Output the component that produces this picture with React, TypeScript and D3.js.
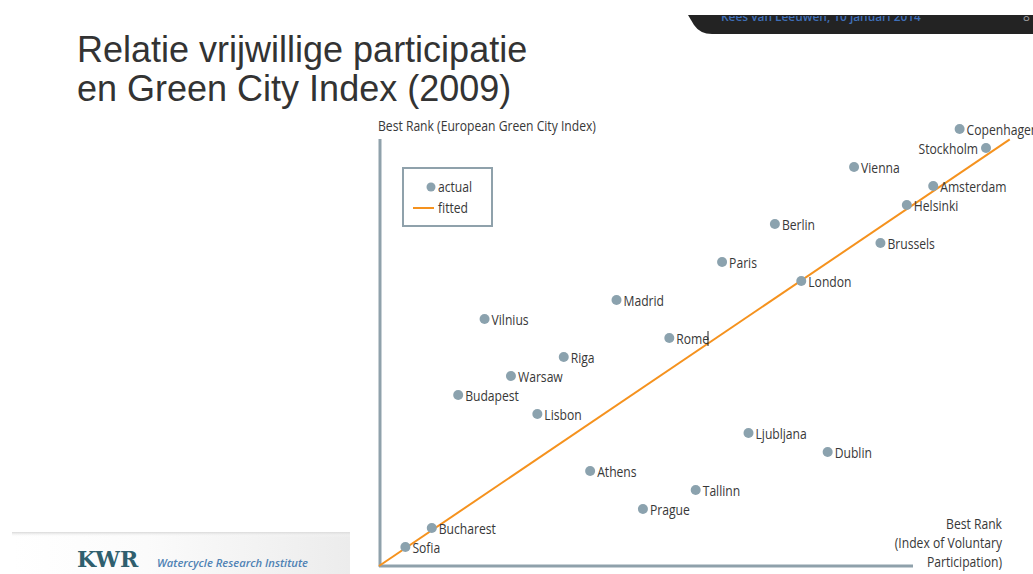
import React from "react";
import * as d3 from "d3";

const cities = ["Copenhagen","Stockholm","Vienna","Amsterdam","Helsinki","Berlin","Brussels","Paris","London","Madrid","Vilnius","Rome","Riga","Warsaw","Budapest","Lisbon","Ljubljana","Dublin","Athens","Tallinn","Prague","Bucharest","Sofia"];
// rank on Index of Voluntary Participation (1 = best, right)
const participationRank = [2,1,6,3,4,9,5,11,8,15,20,13,17,19,21,18,10,7,16,12,14,22,23];
// rank on European Green City Index (1 = best, top)
const greenRank = [1,2,3,4,5,6,7,8,9,10,11,12,13,14,15,16,17,18,19,20,21,22,23];
const labelLeft = ["Stockholm"];
const fittedX = [24, 0.1];
const fittedY = [24, 1.55];
const xAxisTitle = ["Best Rank", "(Index of Voluntary", "Participation)"];
const yAxisTitle = "Best Rank (European Green City Index)";

const W = 1033, H = 574;
const LABEL_FONT = "'Open Sans', 'DejaVu Sans', sans-serif";
const SX = 0.81;
const textColor = "#383838";

function CText({ x, y, children, anchor = "start", size = 15 }: { x: number; y: number; children: React.ReactNode; anchor?: string; size?: number }) {
  return (
    <text transform={`translate(${x},${y}) scale(${SX},1)`} textAnchor={anchor} fontFamily={LABEL_FONT} fontSize={size} fill={textColor}>
      {children}
    </text>
  );
}

export default function App() {
  const x = d3.scaleLinear().domain([24, 0]).range([379, 1012.4]);
  const y = d3.scaleLinear().domain([0, 24]).range([110, 566]);
  const line = d3.line<number>().x((_, i) => x(fittedX[i])).y((_, i) => y(fittedY[i]));
  const dotColor = "#8ba2ae";
  const axisColor = "#8fa1ab";
  const orange = "#f5921e";

  return (
    <svg width={W} height={H} style={{ position: "absolute", left: 0, top: 0, background: "#fff" }}>
      <defs>
        <linearGradient id="foot" x1="0" x2="1" y1="0" y2="0">
          <stop offset="0" stopColor="#ffffff" />
          <stop offset="0.4" stopColor="#fbfbfb" />
          <stop offset="1" stopColor="#ececec" />
        </linearGradient>
        <linearGradient id="footTop" x1="0" x2="0" y1="0" y2="1">
          <stop offset="0" stopColor="#d8d8d8" />
          <stop offset="1" stopColor="#ffffff" stopOpacity="0" />
        </linearGradient>
        <clipPath id="bannerClip">
          <rect x={0} y={16} width={W} height={30} />
        </clipPath>
      </defs>

      {/* top-right banner */}
      <path d="M688,15 L1033,15 L1033,34 L712,34 Q700,34 694,25 Z" fill="#232323" />
      <g clipPath="url(#bannerClip)">
        <text x={721} y={21} fontFamily="'Open Sans', sans-serif" fontSize={11.9} fontWeight={600} fill="#3f6fb8">Kees van Leeuwen, 10 januari 2014</text>
        <text x={1023} y={21} fontFamily="'Open Sans', sans-serif" fontSize={11.9} fill="#9a9a9a">8</text>
      </g>

      {/* title */}
      <text x={77} y={62} fontFamily="'Liberation Sans', Arial, sans-serif" fontSize={36} fill="#333">Relatie vrijwillige participatie</text>
      <text x={77} y={101} fontFamily="'Liberation Sans', Arial, sans-serif" fontSize={36} fill="#333">en Green City Index (2009)</text>

      {/* footer */}
      <rect x={12} y={533} width={338} height={41} fill="url(#foot)" />
      <rect x={12} y={532} width={338} height={5} fill="url(#footTop)" />
      <text x={77} y={567} fontFamily="'DejaVu Serif', 'Liberation Serif', serif" fontSize={22} fontWeight="bold" fill="#2f5f6e">KWR</text>
      <text x={157} y={567} fontFamily="'Open Sans', sans-serif" fontStyle="italic" fontWeight={600} fontSize={11.2} fill="#4f82b4">Watercycle Research Institute</text>

      {/* chart */}
      <rect x={352} y={112} width={681} height={462} fill="#fff" />
      <CText x={378} y={131} size={15}>{yAxisTitle}</CText>
      <line x1={380} x2={380} y1={139} y2={567} stroke={axisColor} strokeWidth={3} />
      <line x1={379} x2={913} y1={566} y2={566} stroke={axisColor} strokeWidth={3} />
      {xAxisTitle.map((t, i) => (
        <CText key={t} x={1002} y={529 + i * 19} anchor="end">{t}</CText>
      ))}

      {/* legend */}
      <rect x={403} y={168} width={89} height={58} fill="none" stroke={axisColor} strokeWidth={2} />
      <circle cx={431} cy={187} r={4.5} fill={dotColor} />
      <CText x={438} y={192}>actual</CText>
      <line x1={413} x2={434} y1={208} y2={208} stroke={orange} strokeWidth={2} />
      <CText x={438} y={213}>fitted</CText>

      <path d={line(fittedX) || ""} stroke={orange} strokeWidth={2} fill="none" />

      {cities.map((c, i) => {
        const cx = x(participationRank[i]);
        const cy = y(greenRank[i]);
        const left = labelLeft.includes(c);
        return (
          <g key={c}>
            <circle cx={cx} cy={cy} r={5} fill={dotColor} />
            <CText x={left ? cx - 8 : cx + 7} y={cy + 5.5} anchor={left ? "end" : "start"}>{c}</CText>
          </g>
        );
      })}
      <line x1={708} x2={708} y1={331} y2={346} stroke="#222" strokeWidth={1} />
    </svg>
  );
}
